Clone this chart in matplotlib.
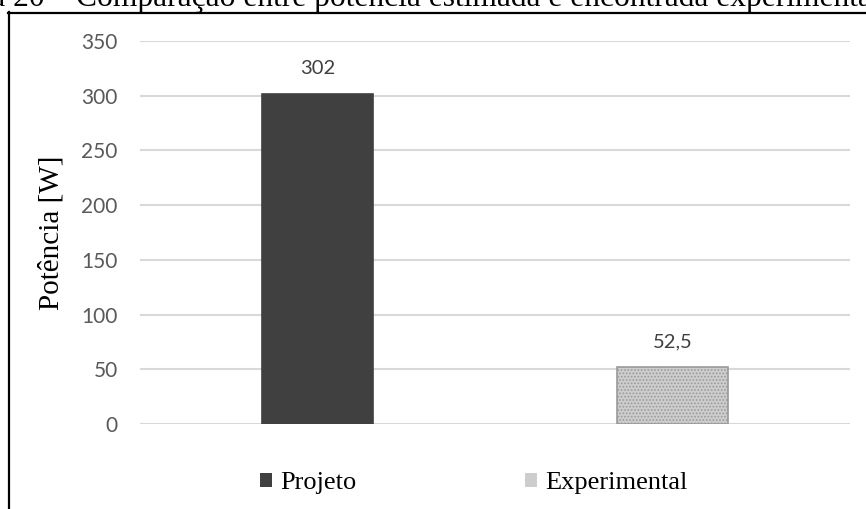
import matplotlib.pyplot as plt
from matplotlib.lines import Line2D
import numpy as np

# Potência estimada (projeto) x potência medida
categorias = ['Projeto', 'Experimental']
potencia = [302, 52.5]
rotulos = ['302', '52,5']
cores = ['#404040', '#cdcdcd']
bordas = ['#404040', '#9a9a9a']
hachuras = [None, '.....']

plt.rcParams['hatch.color'] = '#a9a9a9'
plt.rcParams['hatch.linewidth'] = 0.8

fig = plt.figure(figsize=(8.66, 5.09), dpi=100)
W, H = 866, 509
ax = fig.add_axes([140 / W, 1 - 424 / H, 710 / W, 383 / H])

x = np.arange(len(categorias))
barras = ax.bar(x, potencia, width=0.315, color=cores, edgecolor=bordas,
                linewidth=1.2, zorder=3)
for b, h in zip(barras, hachuras):
    if h:
        b.set_hatch(h)
for xi, v, txt in zip(x, potencia, rotulos):
    ax.annotate(txt, (xi, v), xytext=(0, 12), textcoords='offset points',
                ha='center', va='bottom', fontsize=14.5, family='Lato',
                color='#404040')

ax.set_xlim(-0.5, 1.5)
ax.set_ylim(0, 350)
ax.set_yticks(range(0, 351, 50))
ax.set_xticks([])
ax.yaxis.grid(True, color='#d9d9d9', linewidth=1.5, zorder=0)
ax.set_axisbelow(True)
for s in ax.spines.values():
    s.set_visible(False)
ax.tick_params(axis='y', length=0, pad=16, labelsize=15, labelcolor='#595959')
for t in ax.get_yticklabels():
    t.set_family('Lato')
ax.set_ylabel('Potência [W]', family='Liberation Serif', fontsize=21,
              labelpad=12)

# legenda embaixo
handles = [plt.Rectangle((0, 0), 1, 1, facecolor=c, edgecolor='none')
           for c in cores]
fig.legend(handles, categorias, loc='center', bbox_to_anchor=(474 / W, 1 - 483 / H),
           ncol=2, frameon=False, prop={'family': 'Liberation Serif', 'size': 19},
           handlelength=0.45, handleheight=0.45, handletextpad=0.3,
           columnspacing=6.4)

# moldura e legenda da figura (cortadas)
fig.add_artist(Line2D([8.5 / W, 8.5 / W], [0, 1 - 12 / H], color='black',
                      linewidth=1.6))
fig.add_artist(Line2D([8 / W, 1], [1 - 12.5 / H, 1 - 12.5 / H], color='black',
                      linewidth=1.6))
fig.text(-77 / W, 1 - 6 / H,
         'Figura 20 – Comparação entre potência estimada e encontrada experimentalmente',
         family='Liberation Serif', fontsize=22.7, ha='left', va='baseline')

fig.savefig('out.png', dpi=100)
